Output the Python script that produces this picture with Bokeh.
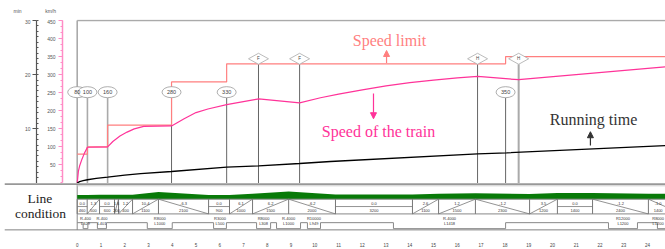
from bokeh.plotting import figure
from bokeh.models import Range1d, LinearAxis, FixedTicker, Arrow, NormalHead
from bokeh.embed import file_html
from bokeh.resources import INLINE
from bokeh.core.properties import value

# ---------------- data ----------------
route_end_km = 24.8
limit_km = [0.0, 0.43, 1.28, 3.97, 6.29, 18.03]
limit_kmh = [80, 100, 160, 280, 330, 350]

train_km = [0, 0.05, 0.1, 0.2, 0.3, 0.43, 1.28, 1.5, 1.8, 2.1, 2.4, 2.8, 3.97, 4.5, 5.0,
            5.5, 6.29, 7.64, 9.36, 10.24, 11.0, 12.0, 13.0, 14.0, 15.0, 16.0, 16.86, 18.58, 24.8]
train_kmh = [0, 33, 47, 66, 82, 99, 100, 115, 130, 141, 150, 157, 158, 178, 195,
             205, 217, 233, 222, 236, 246, 258, 269, 278, 285, 291, 295, 286, 322]

time_km = [0, 0.1, 0.25, 0.43, 0.8, 1.28, 2.0, 2.67, 3.97, 6.29, 7.64, 9.36, 10.66, 16.85, 18.07, 24.8]
time_min = [0, 0.25, 0.42, 0.6, 0.85, 1.08, 1.45, 1.72, 2.12, 2.92, 3.17, 3.6, 3.97, 5.39, 5.58, 6.92]

sign_km = [7.63, 9.36, 16.85, 18.58]
sign_text = ["F", "F", "H", "H"]

grad_start_km = [0, 0.42, 0.94, 1.57, 1.74, 2.33, 3.42, 5.53, 6.41, 7.38, 8.90, 10.87,
                 14.11, 15.21, 16.76, 19.04, 20.21, 21.69, 24.04]
grad_end_km = [0.42, 0.94, 1.57, 1.74, 2.33, 3.42, 5.53, 6.41, 7.38, 8.90, 10.87, 14.11,
               15.21, 16.76, 19.04, 20.21, 21.69, 24.04, 25.45]
grad_permille = [0.0, 1.3, 0.0, 1.6, 1.2, 10.4, -6.3, 0.0, 6.1, 6.2, -6.2, 0.0,
                 2.6, 1.2, -1.2, 3.5, 0.0, -1.2, -1.0]
grad_length_m = [460, 500, 600, 200, 400, 1100, 2100, 900, 1000, 1500, 2000, 3200,
                 1100, 1500, 2300, 1200, 1400, 2400, 1400]

elev_km = [0, 0.42, 0.94, 1.57, 1.74, 2.33, 3.42, 5.53, 6.41, 7.38, 8.90, 10.87,
           14.11, 15.21, 16.76, 19.04, 20.21, 21.69, 24.04, 25.45]
elev_m = [0, 0, 0.7, 0.7, 0.9, 1.6, 12.9, -0.4, -0.4, 5.5, 14.9, 2.7,
          2.7, 5.6, 7.5, 4.7, 8.8, 8.8, 6.0, 4.6]

curve_start_km = [0.25, 0.85, 2.95, 5.74, 7.55, 8.39, 9.69, 13.31, 22.36, 24.42]
curve_end_km = [0.45, 1.23, 4.00, 6.28, 8.14, 9.40, 10.24, 18.03, 23.58, 25.45]
curve_radius = ["R-400", "R-400", "R8000", "R3000", "R8000", "R-4000", "R10000", "R-4000", "R12000", "R8000"]
curve_length = ["L329", "L401", "L1000", "L500", "L308", "L1000", "L949", "L1418", "L1200", "L1200"]

km_ticks = list(range(0, 25))
kmh_ticks = [50, 100, 150, 200, 250, 300, 350, 400, 450]
min_ticks = [10, 20, 30]
unit_labels = ["min", "km/h"]

# ---------------- styles ----------------
LIMIT_C = "#FF7F7F"
TRAIN_C = "#FF3399"
AXIS_PINK = "#FF8CC6"
SERIF = value("Liberation Serif")
SANS = value("Liberation Sans")
marker_y = 251.5
sign_y = 344
label_edge_km = 24.45
FULL_X = (-3.228, 24.76)

# ---------------- header (units) ----------------
h = figure(width=665, height=19, x_range=Range1d(*FULL_X), y_range=Range1d(0, 19),
           output_backend="svg", toolbar_location=None, min_border=0,
           x_axis_location=None, y_axis_location=None, outline_line_color=None)
h.grid.visible = False
h.text(x=[-2.51, -1.12], y=[9, 9], text=unit_labels, text_align="center", text_baseline="middle",
       text_font_size="5px", text_font=SANS, text_color="#555555")

# ---------------- main chart ----------------
p = figure(width=665, height=164, x_range=Range1d(-0.619, 24.76), y_range=Range1d(-1.385, 452.77),
           output_backend="svg", toolbar_location=None, min_border_left=62, min_border_right=0,
           min_border_top=0, min_border_bottom=0, x_axis_location=None, outline_line_color=None,
           background_fill_color="white", border_fill_color="white")
p.grid.visible = False

yax = p.yaxis[0]
yax.ticker = FixedTicker(ticks=kmh_ticks, minor_ticks=[k * 50 / 3 for k in range(28)])
yax.bounds = (0, 450)
yax.axis_line_color = AXIS_PINK
yax.axis_line_width = 1.5
yax.major_tick_line_color = AXIS_PINK
yax.major_tick_out = 4
yax.major_tick_in = 0
yax.minor_tick_line_color = AXIS_PINK
yax.minor_tick_out = 2
yax.minor_tick_in = 0
yax.major_label_text_font_size = "5px"
yax.major_label_text_color = "#555555"
yax.major_label_text_font = "Liberation Sans"
yax.major_label_standoff = 3
yax.axis_label = " "
yax.axis_label_standoff = 0
yax.axis_label_text_font_size = "4px"

p.extra_y_ranges = {"min": Range1d(-0.0923, 30.185)}
max_ = LinearAxis(y_range_name="min", ticker=FixedTicker(ticks=min_ticks, minor_ticks=list(range(0, 31))),
                  bounds=(0, 30))
max_.axis_line_color = "#555555"
max_.axis_line_width = 1.2
max_.major_tick_line_color = "#555555"
max_.major_tick_out = 4
max_.major_tick_in = 0
max_.minor_tick_line_color = "#555555"
max_.minor_tick_in = 2
max_.minor_tick_out = 0
max_.major_label_text_font_size = "5px"
max_.major_label_text_color = "#555555"
max_.major_label_text_font = "Liberation Sans"
max_.major_label_standoff = 2
p.add_layout(max_, "left")

# frame lines
p.segment(x0=[0, 0], y0=[0, 450], x1=[0, route_end_km], y1=[450, 450], line_color="#AAAAAA", line_width=1.6)

# poles under markers
pole_km = limit_km[1:] + sign_km
pole_top = [marker_y - 15] * (len(limit_km) - 1) + [sign_y - 15] * len(sign_km)
pole_color = ["#AAAAAA", "#AAAAAA", "#666666", "#666666", "#666666", "#666666", "#666666", "#666666", "#AAAAAA"]
pole_width = [1.6, 1.6, 1, 1, 1, 1, 1, 1, 2]
p.segment(x0=pole_km, y0=pole_top, x1=pole_km, y1=[0] * len(pole_km), line_color=pole_color, line_width=pole_width)

# speed limit
p.step(x=limit_km + [route_end_km], y=limit_kmh + [limit_kmh[-1]], mode="after", line_color=LIMIT_C, line_width=1.2)
# train speed
p.line(train_km, train_kmh, line_color=TRAIN_C, line_width=1.2)
# running time
p.line(time_km, time_min, y_range_name="min", line_color="black", line_width=1.3)

# speed markers
p.ellipse(x=limit_km, y=[marker_y] * len(limit_km), width=0.8, height=30.5, fill_color="white",
          line_color="#999999", line_width=0.8)
p.text(x=limit_km, y=[marker_y] * len(limit_km), text=[str(v) for v in limit_kmh], text_align="center",
       text_baseline="middle", text_font_size="5.5px", text_font=SANS, text_color="#444444")
# sign diamonds
p.patches(xs=[[k - 0.42, k, k + 0.42, k] for k in sign_km],
          ys=[[sign_y, sign_y + 15.2, sign_y, sign_y - 15.2] for _ in sign_km],
          fill_color="white", line_color="#AAAAAA", line_width=0.8)
p.text(x=sign_km, y=[sign_y] * len(sign_km), text=sign_text, text_align="center", text_baseline="middle",
       text_font_size="4.5px", text_font=SANS, text_color="#444444")

# annotations
p.text(x=[13.14], y=[394.6], text=["Speed limit"], text_align="center", text_baseline="middle",
       text_font_size="16px", text_font=SERIF, text_color=LIMIT_C)
p.text(x=[12.68], y=[142.6], text=["Speed of the train"], text_align="center", text_baseline="middle",
       text_font_size="16px", text_font=SERIF, text_color=TRAIN_C)
p.text(x=[21.73], y=[174.5], text=["Running time"], text_align="center", text_baseline="middle",
       text_font_size="16px", text_font=SERIF, text_color="#333333")
p.add_layout(Arrow(end=NormalHead(size=6, fill_color=LIMIT_C, line_color=LIMIT_C),
                   x_start=13.02, y_start=332, x_end=13.02, y_end=367, line_color=LIMIT_C, line_width=1.2))
p.add_layout(Arrow(end=NormalHead(size=6, fill_color=TRAIN_C, line_color=TRAIN_C),
                   x_start=12.47, y_start=248, x_end=12.47, y_end=178, line_color=TRAIN_C, line_width=1.2))
p.add_layout(Arrow(end=NormalHead(size=6, fill_color="#333333", line_color="#333333"),
                   x_start=21.6, y_start=104, x_end=21.6, y_end=142, line_color="#333333", line_width=1.2))

# ---------------- line condition ----------------
q = figure(width=665, height=66, x_range=Range1d(*FULL_X), y_range=Range1d(0, 51),
           output_backend="svg", toolbar_location=None, min_border_left=0, min_border_right=0,
           min_border_top=0, min_border_bottom=15, y_axis_location=None, outline_line_color=None,
           background_fill_color="white", border_fill_color="white")
q.grid.visible = False
xa = q.xaxis[0]
xa.ticker = FixedTicker(ticks=km_ticks)
xa.axis_line_color = None
xa.major_tick_line_color = None
xa.minor_tick_line_color = None
xa.major_label_text_font_size = "4.5px"
xa.major_label_text_color = "#444444"
xa.major_label_text_font = "Liberation Sans"
xa.major_label_standoff = 6

q.extra_y_ranges = {"elev": Range1d(-154, 50)}

# separators
q.segment(x0=[-3.05, -3.05], y0=[50.5, 0.5], x1=[route_end_km, route_end_km], y1=[50.5, 0.5],
          line_color=["#333333", "#555555"], line_width=[1.2, 1.0])
q.segment(x0=[0], y0=[0.5], x1=[0], y1=[50.5], line_color="#888888", line_width=1)
q.segment(x0=[0], y0=[48.5], x1=[route_end_km], y1=[48.5], line_color="#CCCCCC", line_width=1)

# elevation band
q.varea(x=elev_km, y1=[-18] * len(elev_km), y2=elev_m, y_range_name="elev", fill_color="#087A08")

# gradient row
q.segment(x0=[0, 0], y0=[34, 18], x1=[route_end_km, route_end_km], y1=[34, 18], line_color="#888888", line_width=1)
q.segment(x0=grad_start_km, y0=[18] * len(grad_start_km), x1=grad_start_km, y1=[34] * len(grad_start_km),
          line_color="#777777", line_width=1)
dx0, dy0, dx1, dy1 = [], [], [], []
for s, e, g in zip(grad_start_km, grad_end_km, grad_permille):
    if g > 0:
        dx0.append(s); dy0.append(18); dx1.append(e); dy1.append(34)
    elif g < 0:
        dx0.append(s); dy0.append(34); dx1.append(e); dy1.append(18)
    else:
        dx0.append(s); dy0.append(26); dx1.append(e); dy1.append(26)
q.segment(x0=dx0, y0=dy0, x1=dx1, y1=dy1, line_color="#777777", line_width=0.8)
mid = [min((s + e) / 2, label_edge_km) for s, e in zip(grad_start_km, grad_end_km)]
q.text(x=mid, y=[29.5] * len(mid), text=["%.1f" % g for g in grad_permille], text_align="center",
       text_baseline="middle", text_font_size="4px", text_font=SANS, text_color="#333333")
q.text(x=mid, y=[22] * len(mid), text=[str(v) for v in grad_length_m], text_align="center",
       text_baseline="middle", text_font_size="4px", text_font=SANS, text_color="#333333")

# curve row
cx, cy = [0], [8.5]
for s, e in zip(curve_start_km, curve_end_km):
    cx += [s, s, e, e]
    cy += [8.5, 2, 2, 8.5]
q.line(cx, cy, line_color="#888888", line_width=1)
cmid = [min((s + e) / 2, label_edge_km) for s, e in zip(curve_start_km, curve_end_km)]
q.text(x=cmid, y=[12.5] * len(cmid), text=curve_radius, text_align="center", text_baseline="middle",
       text_font_size="4px", text_font=SANS, text_color="#333333")
q.text(x=cmid, y=[7.2] * len(cmid), text=curve_length, text_align="center", text_baseline="middle",
       text_font_size="4px", text_font=SANS, text_color="#333333")

q.text(x=[-1.566], y=[35], text=["Line"], text_align="center", text_baseline="middle",
       text_font_size="13.5px", text_font=SERIF, text_color="#222222")
q.text(x=[-1.545], y=[18.5], text=["condition"], text_align="center", text_baseline="middle",
       text_font_size="13.5px", text_font=SERIF, text_color="#222222")

open("out.html", "w").write(file_html([h, p, q], INLINE))
